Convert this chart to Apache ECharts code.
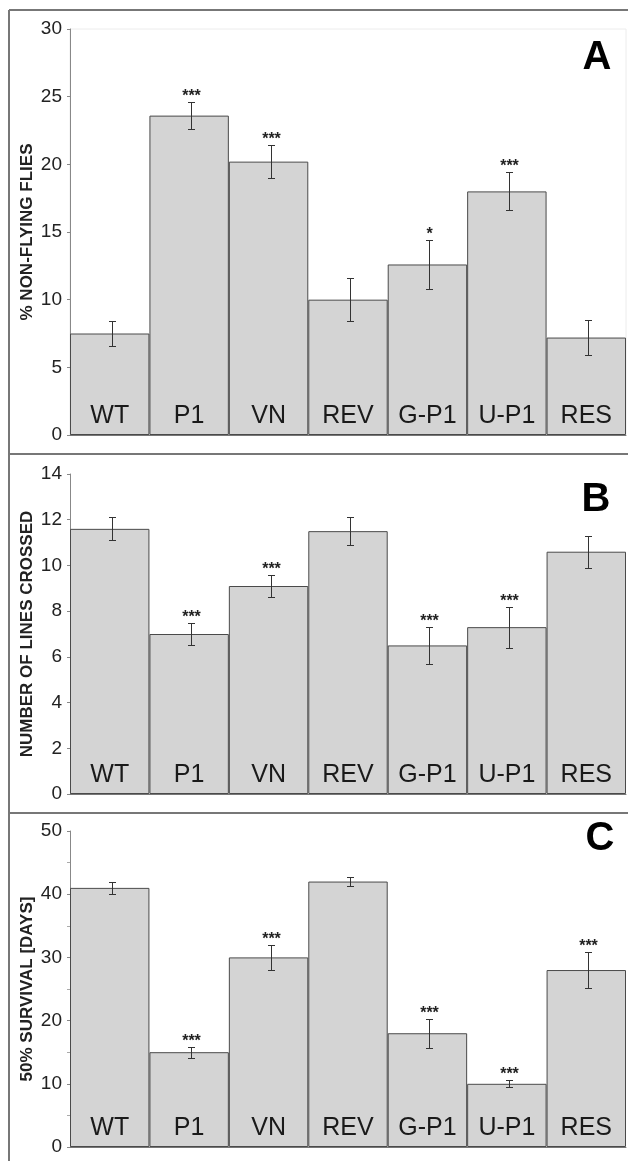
<!DOCTYPE html>
<html><head><meta charset="utf-8">
<script src="https://cdn.jsdelivr.net/npm/echarts/dist/echarts.min.js"></script>
<style>html,body{margin:0;padding:0;background:#fff}#c{width:628px;height:1161px}</style>
</head><body><div id="c"></div><script>
const categories = ['WT', 'P1', 'VN', 'REV', 'G-P1', 'U-P1', 'RES'];

const flyingMean = [7.5, 23.6, 20.2, 10.0, 12.6, 18.0, 7.2];
const flyingErr  = [0.9, 1.0, 1.2, 1.6, 1.8, 1.4, 1.3];
const flyingSig  = ['', '***', '***', '', '*', '***', ''];

const linesMean = [11.6, 7.0, 9.1, 11.5, 6.5, 7.3, 10.6];
const linesErr  = [0.5, 0.5, 0.5, 0.6, 0.8, 0.9, 0.7];
const linesSig  = ['', '***', '***', '', '***', '***', ''];

const survivalMean = [41, 15, 30, 42, 18, 10, 28];
const survivalErr  = [1.0, 0.9, 2.0, 0.7, 2.3, 0.55, 2.9];
const survivalSig  = ['', '***', '***', '', '***', '***', '***'];

const panelNames = ['% NON-FLYING FLIES', 'NUMBER OF LINES CROSSED', '50% SURVIVAL [DAYS]'];
const panelLetters = ['A', 'B', 'C'];
const axisMax = [30, 14, 50];
const axisInterval = [5, 2, 10];

const FONT = "'Liberation Sans', Arial, sans-serif";
const panels = [
  {mean: flyingMean, err: flyingErr, sig: flyingSig, top: 29, height: 406},
  {mean: linesMean, err: linesErr, sig: linesSig, top: 474, height: 320},
  {mean: survivalMean, err: survivalErr, sig: survivalSig, top: 831, height: 316}
];

const grids = [], xAxes = [], yAxes = [], series = [];
panels.forEach((p, k) => {
  grids.push({left: 70, right: 2, top: p.top, height: p.height, containLabel: false, outerBoundsMode: 'none',
    show: k === 0, borderColor: '#ececec', borderWidth: 1, backgroundColor: 'transparent'});
  xAxes.push({type: 'category', gridIndex: k, data: categories,
    axisLine: {show: true, onZero: false, lineStyle: {color: '#777', width: 1}},
    axisTick: {show: false}, axisLabel: {show: false}, splitLine: {show: false}});
  yAxes.push({type: 'value', gridIndex: k, min: 0, max: axisMax[k], interval: axisInterval[k],
    name: panelNames[k], nameLocation: 'middle', nameGap: 34, nameRotate: 90, nameMoveOverlap: false,
    nameTextStyle: {fontFamily: FONT, fontWeight: 'bold', fontSize: 17, color: '#222'},
    axisLine: {show: true, lineStyle: {color: '#888', width: 1}},
    axisTick: {show: true, inside: false, length: 3, lineStyle: {color: '#888'}},
    minorTick: {show: k === 2, splitNumber: 2, length: 3, lineStyle: {color: '#aaa'}},
    axisLabel: {fontFamily: FONT, fontSize: 19, color: '#222', margin: 8},
    splitLine: {show: false}});
  series.push({type: 'bar', xAxisIndex: k, yAxisIndex: k, data: p.mean,
    barCategoryGap: '0%', barWidth: '100%',
    itemStyle: {color: '#d4d4d4', borderColor: '#4a4a4a', borderWidth: 1},
    label: {show: true, position: 'insideBottom', distance: 6, formatter: '{b}',
      fontFamily: FONT, fontSize: 25, color: '#1a1a1a'},
    emphasis: {disabled: true}, silent: true, z: 2});
  series.push({type: 'custom', xAxisIndex: k, yAxisIndex: k,
    data: p.mean.map((m, i) => [i, m, p.err[i]]),
    renderItem: function (params, api) {
      const i = api.value(0), m = api.value(1), e = api.value(2);
      const t = api.coord([i, m + e]), b = api.coord([i, m - e]);
      const x = Math.round(t[0] + 2) + 0.5;
      const yt = Math.round(t[1]) + 0.5, yb = Math.round(b[1]) + 0.5;
      const hw = 3.5, st = {stroke: '#333', lineWidth: 1};
      const children = [
        {type: 'line', shape: {x1: x, y1: yt, x2: x, y2: yb}, style: st},
        {type: 'line', shape: {x1: x - hw, y1: yt, x2: x + hw, y2: yt}, style: st},
        {type: 'line', shape: {x1: x - hw, y1: yb, x2: x + hw, y2: yb}, style: st}
      ];
      const s = p.sig[params.dataIndex];
      if (s) children.push({type: 'text', x: x, y: yt - 6,
        style: {text: s, fontFamily: FONT, fontSize: 16, fontWeight: 'bold', fill: '#222',
          align: 'center', verticalAlign: 'middle'}});
      return {type: 'group', children: children};
    }, silent: true, z: 5});
});

const graphics = [
  {type: 'line', shape: {x1: 9, y1: 10, x2: 628, y2: 10}, style: {stroke: '#777', lineWidth: 2}},
  {type: 'line', shape: {x1: 9, y1: 10, x2: 9, y2: 1161}, style: {stroke: '#777', lineWidth: 2}},
  {type: 'line', shape: {x1: 9, y1: 454, x2: 628, y2: 454}, style: {stroke: '#777', lineWidth: 2}},
  {type: 'line', shape: {x1: 9, y1: 813, x2: 628, y2: 813}, style: {stroke: '#777', lineWidth: 2}},
  {type: 'text', x: 597, y: 58, style: {text: panelLetters[0], fontFamily: FONT, fontWeight: 'bold', fontSize: 40, fill: '#000', align: 'center', verticalAlign: 'middle'}},
  {type: 'text', x: 596, y: 500, style: {text: panelLetters[1], fontFamily: FONT, fontWeight: 'bold', fontSize: 40, fill: '#000', align: 'center', verticalAlign: 'middle'}},
  {type: 'text', x: 600, y: 839, style: {text: panelLetters[2], fontFamily: FONT, fontWeight: 'bold', fontSize: 40, fill: '#000', align: 'center', verticalAlign: 'middle'}}
];

const chart = echarts.init(document.getElementById('c'), null, {renderer: 'canvas'});
chart.setOption({
  animation: false, backgroundColor: '#fff',
  grid: grids, xAxis: xAxes, yAxis: yAxes, series: series, graphic: graphics
});
</script></body></html>
